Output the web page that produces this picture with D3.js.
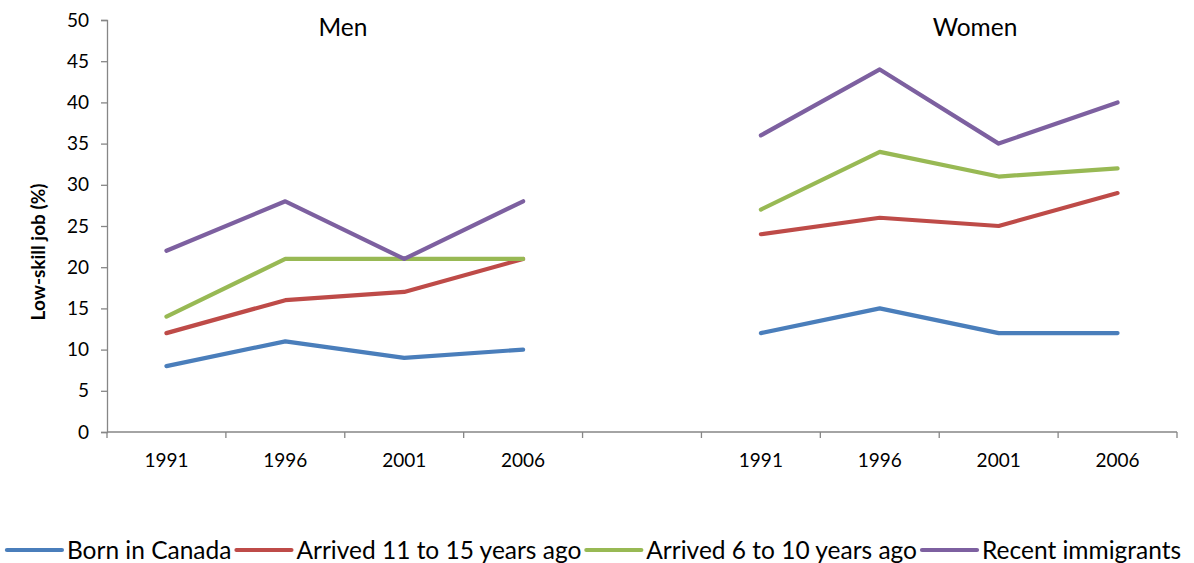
<!DOCTYPE html>
<html>
<head>
<meta charset="utf-8">
<script src="https://cdn.jsdelivr.net/npm/d3@7"></script>
<style>
  html, body { margin: 0; padding: 0; background: #fff; }
  svg { display: block; font-family: Lato, "Open Sans", sans-serif; }
</style>
</head>
<body>
<svg id="chart" width="1194" height="563"></svg>
<script>
// Category slots along the x axis: two panels of census years with an empty gap slot between them
const slots = ["m1991", "m1996", "m2001", "m2006", "gap", "w1991", "w1996", "w2001", "w2006"];
const slotLabels = ["1991", "1996", "2001", "2006", "", "1991", "1996", "2001", "2006"];
const menSlots = ["m1991", "m1996", "m2001", "m2006"];
const womenSlots = ["w1991", "w1996", "w2001", "w2006"];

const seriesNames = ["Born in Canada", "Arrived 11 to 15 years ago", "Arrived 6 to 10 years ago", "Recent immigrants"];
const seriesColors = ["#4A7EBB", "#BE4B48", "#98B954", "#7D60A0"];

// Share in a low-skill job (%), men
const menBorn = [8, 11, 9, 10];
const menArr11to15 = [12, 16, 17, 21];
const menArr6to10 = [14, 21, 21, 21];
const menRecent = [22, 28, 21, 28];

// Share in a low-skill job (%), women
const womenBorn = [12, 15, 12, 12];
const womenArr11to15 = [24, 26, 25, 29];
const womenArr6to10 = [27, 34, 31, 32];
const womenRecent = [36, 44, 35, 40];

const yTicks = [0, 5, 10, 15, 20, 25, 30, 35, 40, 45, 50];

const svg = d3.select("#chart");
const plotLeft = 107, plotRight = 1177, plotTop = 20, plotBottom = 432;

const x = d3.scaleBand().domain(slots).range([plotLeft, plotRight]).padding(0);
const y = d3.scaleLinear().domain([0, 50]).range([plotBottom, plotTop]);
const axisColor = "#868686";
const tickFont = 19;

// Y axis
const yAxis = svg.append("g")
  .attr("transform", `translate(${plotLeft},0)`)
  .call(d3.axisLeft(y).tickValues(yTicks).tickSize(6).tickPadding(12));
yAxis.select(".domain").attr("stroke", axisColor).attr("stroke-width", 1.3);
yAxis.selectAll(".tick line").attr("stroke", axisColor).attr("stroke-width", 1.3);
yAxis.selectAll(".tick text").attr("font-size", tickFont).attr("fill", "#000").attr("font-family", "Lato");

// X axis: ticks sit on slot boundaries, labels in slot centres
const xAxisG = svg.append("g").attr("transform", `translate(0,${plotBottom})`);
xAxisG.append("line")
  .attr("x1", plotLeft).attr("x2", plotRight)
  .attr("stroke", axisColor).attr("stroke-width", 1.3);
const boundaries = slots.map(s => x(s)).concat([plotRight]);
xAxisG.selectAll("line.tk").data(boundaries).join("line")
  .attr("class", "tk")
  .attr("x1", d => d).attr("x2", d => d)
  .attr("y1", 0).attr("y2", 6)
  .attr("stroke", axisColor).attr("stroke-width", 1.3);
xAxisG.selectAll("text").data(slots).join("text")
  .attr("x", d => x(d) + x.bandwidth() / 2)
  .attr("y", 35)
  .attr("text-anchor", "middle")
  .attr("font-size", tickFont)
  .text((d, i) => slotLabels[i]);

// Y axis title
svg.append("text")
  .attr("transform", `translate(45,252) rotate(-90)`)
  .attr("text-anchor", "middle")
  .attr("font-size", 19)
  .attr("font-weight", "bold")
  .text("Low-skill job (%)");

// Panel titles
svg.append("text").attr("x", 343).attr("y", 36).attr("text-anchor", "middle")
  .attr("font-size", 24.5).text("Men");
svg.append("text").attr("x", 975).attr("y", 36).attr("text-anchor", "middle")
  .attr("font-size", 24.5).text("Women");

// Lines
const line = d3.line().x(d => x(d.slot) + x.bandwidth() / 2).y(d => y(d.v));
const groups = [
  [menSlots, [menBorn, menArr11to15, menArr6to10, menRecent]],
  [womenSlots, [womenBorn, womenArr11to15, womenArr6to10, womenRecent]]
];
groups.forEach(([slotSet, seriesSet]) => {
  seriesSet.forEach((vals, i) => {
    svg.append("path")
      .datum(vals.map((v, j) => ({ slot: slotSet[j], v })))
      .attr("d", line)
      .attr("fill", "none")
      .attr("stroke", seriesColors[i])
      .attr("stroke-width", 4.2)
      .attr("stroke-linejoin", "round")
      .attr("stroke-linecap", "round");
  });
});

// Legend laid out in a single centred row
const legend = svg.append("g").attr("transform", "translate(0,550)");
const swatch = 55, gapAfterSwatch = 5, gapAfterText = 5, legendFont = 24.5;
const items = seriesNames.map((name, i) => {
  const g = legend.append("g");
  g.append("line").attr("x1", 0).attr("x2", swatch).attr("y1", 0).attr("y2", 0)
    .attr("stroke", seriesColors[i]).attr("stroke-width", 4.2).attr("stroke-linecap", "round");
  const t = g.append("text").attr("x", swatch + gapAfterSwatch).attr("y", 8.5)
    .attr("font-size", legendFont).text(name);
  return { g, w: swatch + gapAfterSwatch + t.node().getComputedTextLength() };
});
const totalW = d3.sum(items, d => d.w) + gapAfterText * (items.length - 1);
let cx = 594 - totalW / 2;
items.forEach(it => {
  it.g.attr("transform", `translate(${cx},0)`);
  cx += it.w + gapAfterText;
});
</script>
</body>
</html>
